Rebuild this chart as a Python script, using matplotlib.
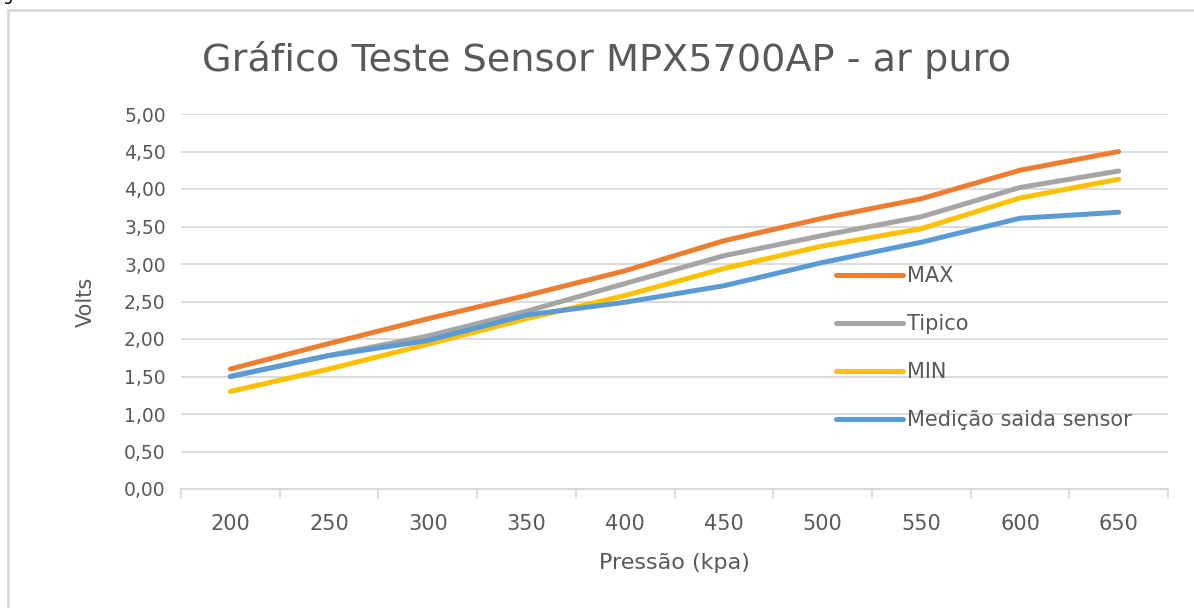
import numpy as np
from matplotlib import pyplot as plt
from matplotlib.patches import Rectangle

# Dados
pressao = ["200", "250", "300", "350", "400", "450", "500", "550", "600", "650"]
v_max = [1.60, 1.94, 2.27, 2.58, 2.91, 3.31, 3.61, 3.87, 4.25, 4.50]
v_tipico = [1.50, 1.78, 2.04, 2.37, 2.74, 3.11, 3.38, 3.63, 4.02, 4.24]
v_min = [1.30, 1.60, 1.93, 2.27, 2.58, 2.94, 3.24, 3.47, 3.88, 4.13]
v_medido = [1.50, 1.78, 1.98, 2.32, 2.49, 2.71, 3.02, 3.29, 3.61, 3.69]
y_ticks = [0, 0.5, 1, 1.5, 2, 2.5, 3, 3.5, 4, 4.5, 5]

txt = "#595959"
grid = "#d9d9d9"
plt.rcParams["font.family"] = ["DejaVu Sans"]

fig = plt.figure(figsize=(11.94, 6.08), dpi=100)
ax = fig.add_axes([181/1194, 1-489/608, (1168-181)/1194, (489-114)/608])

x = np.arange(len(pressao))
ax.plot(x, v_max, color="#ED7D31", lw=3.6, solid_capstyle="round", label="MAX")
ax.plot(x, v_tipico, color="#A5A5A5", lw=3.6, solid_capstyle="round", label="Tipico")
ax.plot(x, v_min, color="#FFC000", lw=3.6, solid_capstyle="round", label="MIN")
ax.plot(x, v_medido, color="#5B9BD5", lw=3.6, solid_capstyle="round", label="Medição saida sensor")

ax.set_xlim(-0.5, len(pressao) - 0.5)
ax.set_ylim(0, 5)
ax.set_yticks(y_ticks)
ax.set_yticklabels([f"{v:.2f}".replace(".", ",") for v in y_ticks])
ax.set_xticks(x)
ax.set_xticklabels(pressao)
ax.set_xticks(np.arange(len(pressao) + 1) - 0.5, minor=True)
ax.tick_params(axis="x", which="major", length=0, pad=18, labelsize=15, colors=txt)
ax.tick_params(axis="x", which="minor", length=7, width=1.2, color=grid)
ax.tick_params(axis="y", length=0, pad=11, labelsize=13.5, colors=txt)
ax.grid(axis="y", color=grid, lw=1.3)
ax.set_axisbelow(True)
for s in ["top", "right", "left"]:
    ax.spines[s].set_visible(False)
ax.spines["bottom"].set_color(grid)
ax.spines["bottom"].set_linewidth(1.3)

ax.set_ylabel("Volts", fontsize=15, color=txt, labelpad=20)
ax.set_xlabel("Pressão (kpa)", fontsize=16, color=txt, labelpad=14)
fig.text(607/1194, 1-60/608, "Gráfico Teste Sensor MPX5700AP - ar puro",
         fontsize=27.5, color=txt, ha="center", va="center")

ax.legend(loc="upper left", bbox_to_anchor=(826/1194, 1-256/608),
          bbox_transform=fig.transFigure, frameon=False, fontsize=15,
          labelcolor=txt, handlelength=3.2, handletextpad=0.2,
          labelspacing=1.34, borderpad=0)

# moldura do grafico
fig.patches.append(Rectangle((8/1194, -0.1), 1.2, 1.1 - 10/608, transform=fig.transFigure,
                             fill=False, edgecolor=grid, lw=2))
fig.text(0.002, 1.0, "g", fontsize=12, va="baseline", color="black")

plt.savefig("out.png", dpi=100)
